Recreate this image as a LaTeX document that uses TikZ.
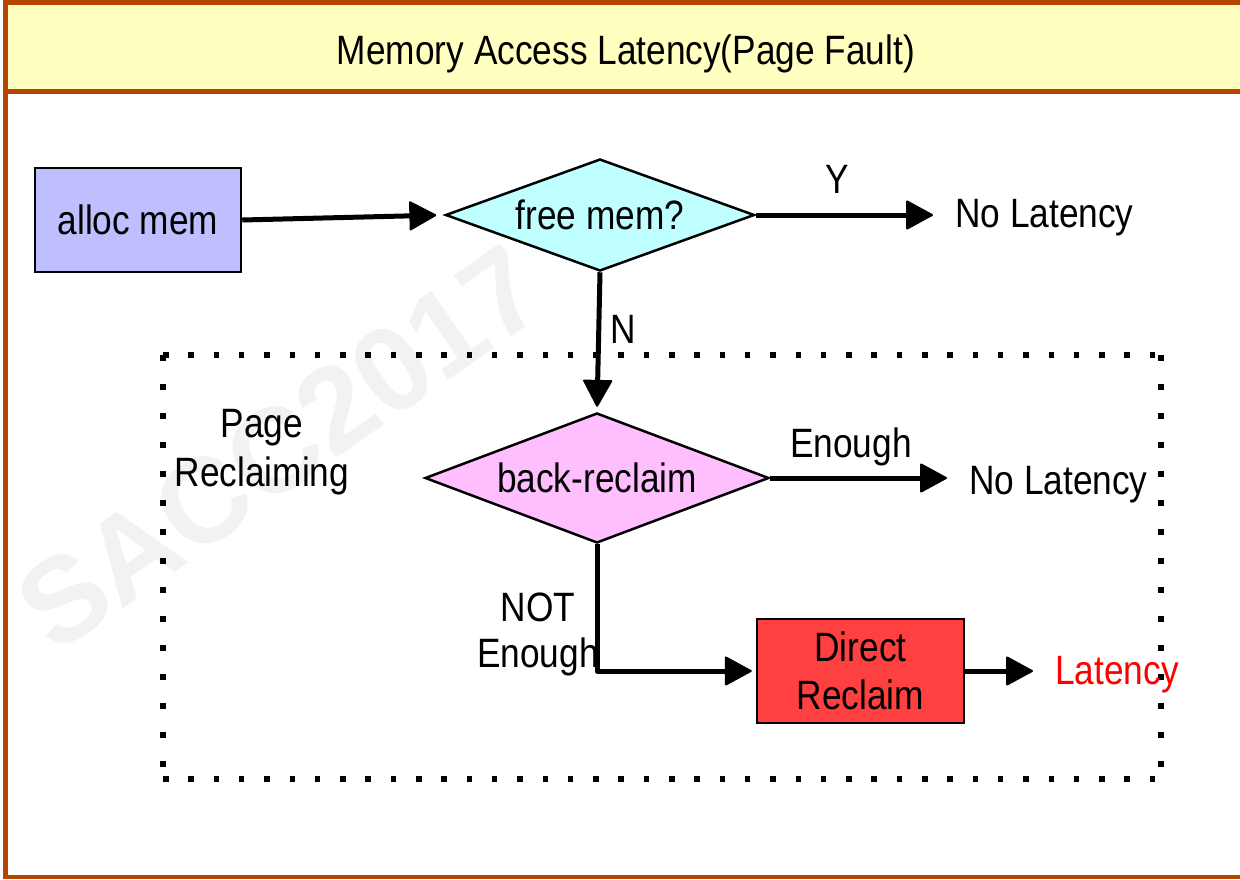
\documentclass[tikz,border=0pt]{standalone}
\usepackage{fontspec}
\setmainfont[FakeStretch=0.86]{Liberation Sans}
\newfontfamily\wmfont{Liberation Sans}
\usetikzlibrary{shapes.geometric,arrows.meta}
\definecolor{rust}{RGB}{180,70,0}
\definecolor{titlefill}{RGB}{255,255,192}
\definecolor{allocfill}{RGB}{191,191,255}
\definecolor{freefill}{RGB}{191,255,255}
\definecolor{backfill}{RGB}{255,191,255}
\definecolor{directfill}{RGB}{255,64,64}
\definecolor{latred}{RGB}{255,0,0}
\begin{document}
\begin{tikzpicture}[x=1pt,y=-1pt,
  every node/.style={font=\fontsize{41}{49}\selectfont, inner sep=0pt},
  procbox/.style={draw=black, line width=2.5pt, align=center},
  decision/.style={diamond, draw=black, line width=2.5pt},
  conn/.style={line width=5pt, line join=round, -{Triangle[length=28pt,width=30pt,line join=round,line width=2pt]}},
  hdots/.style={line width=5.5pt, dash pattern=on 5.5pt off 19.8pt},
  vdots/.style={line width=5.5pt, dash pattern=on 5.5pt off 23.5pt}
]
\useasboundingbox (0,0) rectangle (1240,879);
\fill[white] (0,0) rectangle (1240,879);
% frame and title bar
\draw[rust, line width=4.5pt] (5.5,2.5) rectangle (1270,877);
\filldraw[fill=titlefill, draw=rust, line width=4.5pt] (5.5,2.5) rectangle (1270,91.5);
\node[anchor=base] (title) at (626,64) {Memory Access Latency(Page Fault)};
% watermark
\node[rotate=35, text=black!5, font=\wmfont\bfseries\fontsize{120}{120}\selectfont] (wm) at (280,448) {SACC2017};
% dotted page-reclaiming region
\coordinate (d1) at (163,355);
\coordinate (d2) at (1161,355);
\coordinate (d3) at (1161,779);
\coordinate (d4) at (163,779);
\draw[hdots] (d1) -- (d2);
\draw[hdots] (d4) -- (d3);
\draw[vdots] (d1) -- (d4);
\draw[vdots] (d2) -- (d3);
\node[align=center] (pr) at (262,452) {Page\\Reclaiming};
% nodes
\node[procbox, fill=allocfill, minimum width=206pt, minimum height=104pt] (alloc) at (138,220) {alloc mem};
\node[decision, fill=freefill, aspect=2.76, minimum width=309pt, minimum height=112pt] (free) at (600,215) {free mem?};
\node[anchor=base west] (nolat1) at (955,227) {No Latency};
\node[decision, fill=backfill, aspect=2.65, minimum width=344pt, minimum height=130pt] (back) at (597,478) {back-reclaim};
\node[anchor=base west] (nolat2) at (969,494) {No Latency};
\node[procbox, fill=directfill, minimum width=207pt, minimum height=104pt, font=\fontsize{41}{48}\selectfont] (direct) at (860.5,671) {Direct\\Reclaim};
\node[anchor=base west, text=latred] (lat) at (1055,684) {Latency};
% labels
\node[anchor=base] (ylbl) at (837,193) {Y};
\node[anchor=base] (nlbl) at (623,343) {N};
\node[anchor=base] (enlbl) at (851,457) {Enough};
\node[align=center, font=\fontsize{41}{46}\selectfont] (notlbl) at (538,634.6) {NOT\\Enough};
% connectors
\draw[conn, shorten >=8pt] (alloc.east) -- (free.west);
\draw[conn, shorten >=22pt] (free.east) -- (free.east -| nolat1.west);
\draw[conn, shorten >=5pt] (free.south) -- (back.north);
\draw[conn, shorten >=22pt] (back.east) -- (back.east -| nolat2.west);
\draw[conn, shorten >=4pt] (back.south) |- (direct.west);
\draw[conn, shorten >=22pt] (direct.east) -- (direct.east -| lat.west);
\end{tikzpicture}
\end{document}
